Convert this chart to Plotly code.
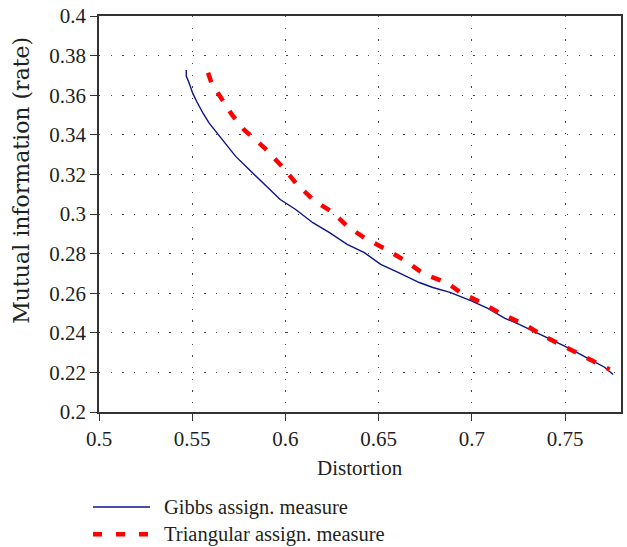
import plotly.graph_objects as go

# Gibbs assignment measure (solid navy)
gibbs_x = [0.5468, 0.5468, 0.5484, 0.5503, 0.5525, 0.5558, 0.5591, 0.5650, 0.5733, 0.5797,
           0.5889, 0.5972, 0.6055, 0.6147, 0.6239, 0.6331, 0.6423, 0.6511, 0.6607, 0.6718,
           0.6791, 0.6883, 0.6994, 0.7086, 0.7178, 0.7251, 0.7344, 0.7436, 0.7528, 0.7620,
           0.7712, 0.7758]
gibbs_y = [0.3727, 0.3697, 0.3660, 0.3609, 0.3567, 0.3509, 0.3459, 0.3391, 0.3291, 0.3232,
           0.3148, 0.3073, 0.3023, 0.2956, 0.2905, 0.2847, 0.2805, 0.2746, 0.2704, 0.2654,
           0.2629, 0.2604, 0.2562, 0.2523, 0.2473, 0.2444, 0.2402, 0.2360, 0.2319, 0.2272,
           0.2226, 0.2189]

# Triangular assignment measure (dashed red)
tri_x = [0.5585, 0.5604, 0.5650, 0.5714, 0.5779, 0.5889, 0.5990, 0.6055, 0.6147, 0.6257,
         0.6331, 0.6423, 0.6533, 0.6644, 0.6745, 0.6865, 0.6938, 0.7049, 0.7159, 0.7279,
         0.7380, 0.7500, 0.7601, 0.7739]
tri_y = [0.3713, 0.3660, 0.3593, 0.3500, 0.3425, 0.3333, 0.3232, 0.3157, 0.3073, 0.3006,
         0.2939, 0.2880, 0.2825, 0.2763, 0.2696, 0.2654, 0.2604, 0.2553, 0.2495, 0.2444,
         0.2386, 0.2327, 0.2277, 0.2215]

series_names = ["Gibbs assign. measure", "Triangular assign. measure"]

x_ticks = [0.5, 0.55, 0.6, 0.65, 0.7, 0.75]
x_tick_labels = ["0.5", "0.55", "0.6", "0.65", "0.7", "0.75"]
y_ticks = [0.2, 0.22, 0.24, 0.26, 0.28, 0.3, 0.32, 0.34, 0.36, 0.38, 0.4]
y_tick_labels = ["0.2", "0.22", "0.24", "0.26", "0.28", "0.3", "0.32", "0.34", "0.36", "0.38", "0.4"]

FONT = "Liberation Serif"
TXT = "#231f20"
FS = 21
BLUE = "#0a1488"
RED = "#ff0000"

fig = go.Figure()
fig.add_trace(go.Scatter(x=gibbs_x, y=gibbs_y, mode="lines", name=series_names[0],
                         line=dict(color=BLUE, width=1.4)))
fig.add_trace(go.Scatter(x=tri_x, y=tri_y, mode="lines", name=series_names[1],
                         line=dict(color=RED, width=4.5, dash="10px,12px")))

axis_common = dict(
    showline=True, linecolor="#333333", linewidth=1.5, mirror=True,
    ticks="outside", ticklen=7, tickwidth=1.2, tickcolor="#333333",
    showgrid=True, gridcolor="#444444", gridwidth=1.2, griddash="1.3px,10.4px",
    zeroline=False, tickfont=dict(family=FONT, size=FS, color=TXT),
)

fig.update_xaxes(range=[0.5, 0.78], tickvals=x_ticks, ticktext=x_tick_labels, **axis_common)
fig.update_yaxes(range=[0.2, 0.4], tickvals=y_ticks, ticktext=y_tick_labels, **axis_common)

# Legend drawn below the plot (line samples + labels)
leg_y = [-0.240, -0.309]
shapes = [
    dict(type="line", xref="paper", yref="paper", x0=-0.0115, x1=0.0977, y0=leg_y[0], y1=leg_y[0],
         line=dict(color=BLUE, width=1.4)),
    dict(type="line", xref="paper", yref="paper", x0=-0.0115, x1=0.0977, y0=leg_y[1], y1=leg_y[1],
         line=dict(color=RED, width=4.5, dash="9px,14px")),
]
annotations = [
    dict(text="Distortion", xref="paper", yref="paper", x=0.5, y=-0.141,
         xanchor="center", yanchor="middle", showarrow=False,
         font=dict(family=FONT, size=FS, color=TXT)),
    dict(text="Mutual information (rate)", xref="paper", yref="paper", x=-0.148, y=0.586,
         xanchor="center", yanchor="middle", textangle=-90, showarrow=False,
         font=dict(family="DejaVu Serif", size=22, color=TXT)),
]
for name, ly in zip(series_names, leg_y):
    annotations.append(dict(text=name, xref="paper", yref="paper", x=0.1207, y=ly,
                            xanchor="left", yanchor="middle", showarrow=False,
                            font=dict(family=FONT, size=20.5, color=TXT)))

fig.update_layout(
    width=627, height=547,
    margin=dict(l=99, r=6, t=16, b=135, autoexpand=False),
    paper_bgcolor="white", plot_bgcolor="white",
    font=dict(family=FONT, size=FS, color=TXT),
    showlegend=False,
    shapes=shapes,
    annotations=annotations,
)

# remove the default page margin so the figure fills the window exactly
fig.write_html("out.html", config={"displayModeBar": False},
               post_script="document.body.style.margin='0';")
